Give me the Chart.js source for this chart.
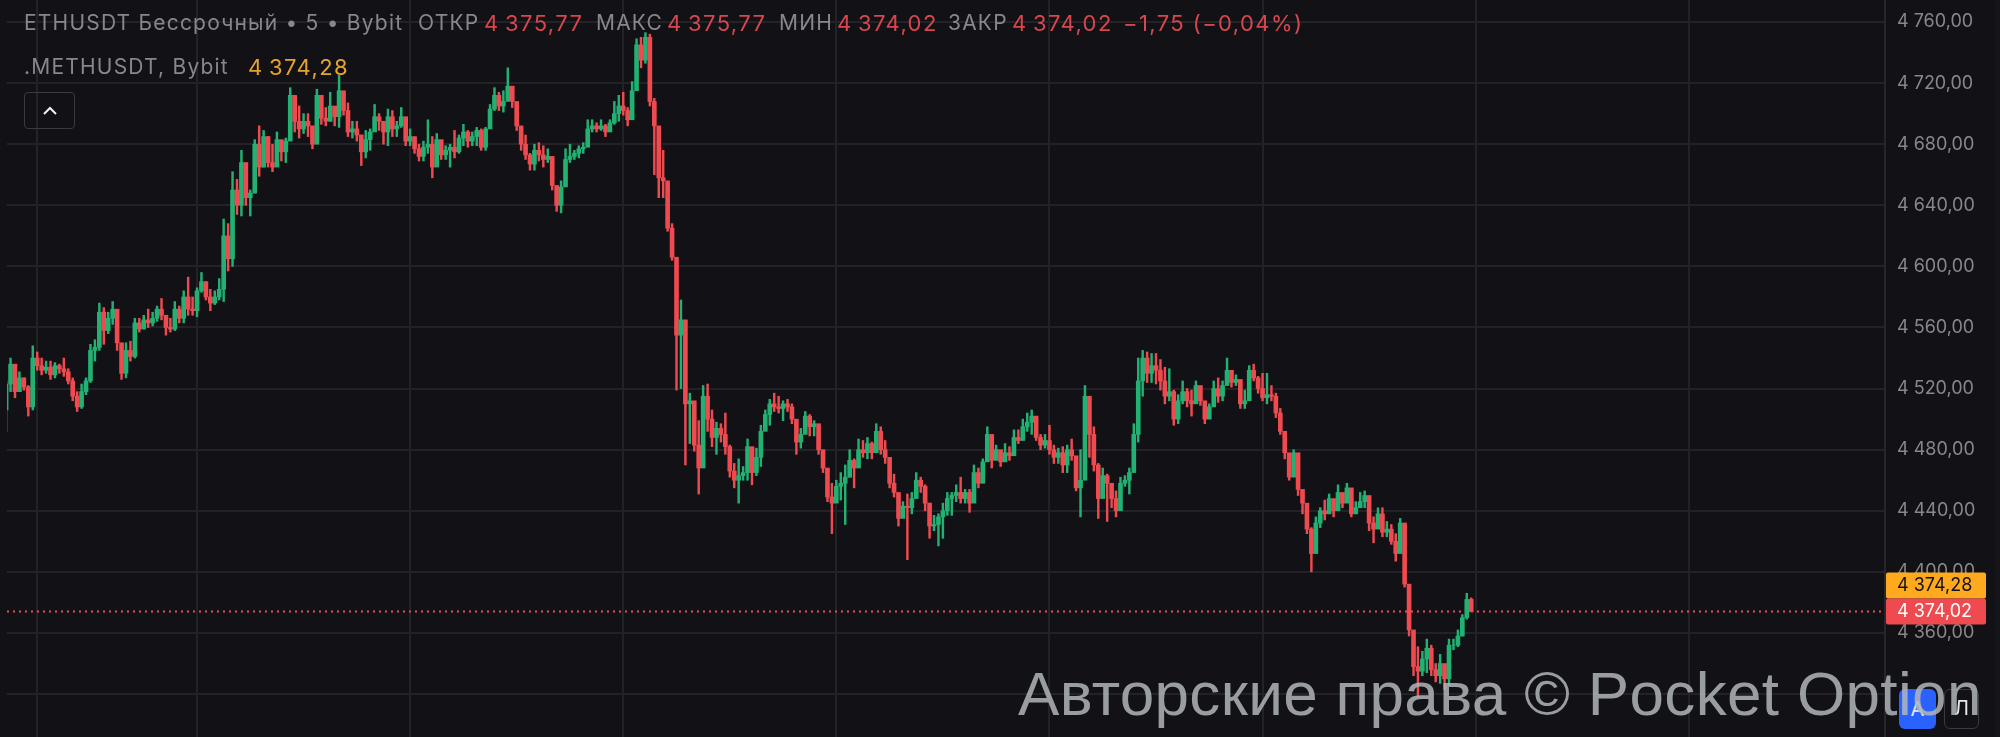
<!DOCTYPE html>
<html>
<head>
<meta charset="utf-8">
<script src="https://cdn.jsdelivr.net/npm/chart.js@4"></script>
<style>
    html, body { margin: 0; padding: 0; background: #15151a; overflow: hidden; }
    #wrap { position: absolute; left: 0; top: 0; width: 1995px; height: 737px; background: #111116; }
    #chart { display: block; }
    .t { position: absolute; font: 21px Inter, sans-serif; letter-spacing: 1.2px; white-space: nowrap; color: #87878c; line-height: 24px; }
    .red { color: #d8474d; font-size: 22px; letter-spacing: 1.4px; }
    .gold { color: #e6a52a; font-size: 22px; letter-spacing: 1.4px; }
    #collapse { position: absolute; left: 24px; top: 92px; width: 51px; height: 37px; border: 1.5px solid #3a3a40; border-radius: 4px; box-sizing: border-box; }
    #collapse svg { position: absolute; left: 17px; top: 12px; }
    #mark { position: absolute; left: 1018px; top: 658px; font: 62px "Liberation Sans", sans-serif; letter-spacing: 0.35px; color: rgba(178,182,187,.85); white-space: nowrap; line-height: 72px; }
    .scale-btn { position: absolute; top: 689px; height: 40px; border-radius: 6px; box-sizing: border-box; font: 20px Inter, sans-serif; text-align: center; line-height: 40px; color: #e8e8ea; }
</style>
</head>
<body>
<div id="wrap">
    <canvas id="chart" width="1995" height="737"></canvas>
    <div class="scale-btn" style="left:1899px;width:37px;background:#2962ff">А</div>
    <div class="scale-btn" style="left:1944px;width:35px;border:1.5px solid #3a3a40;line-height:37px">Л</div>
    <div id="mark">Авторские права © Pocket Option</div>
    <span class="t" style="left:24px;top:11px">ETHUSDT Бессрочный • 5 • Bybit</span>
    <span class="t" style="left:418px;top:11px">ОТКР</span>
    <span class="t red" style="left:484px;top:11px">4&#8201;375,77</span>
    <span class="t" style="left:596px;top:11px">МАКС</span>
    <span class="t red" style="left:667px;top:11px">4&#8201;375,77</span>
    <span class="t" style="left:779px;top:11px">МИН</span>
    <span class="t red" style="left:837px;top:11px">4&#8201;374,02</span>
    <span class="t" style="left:948px;top:11px">ЗАКР</span>
    <span class="t red" style="left:1012px;top:11px">4&#8201;374,02</span>
    <span class="t red" style="left:1123px;top:11px">−1,75 (−0,04%)</span>
    <span class="t" style="left:24px;top:55px">.METHUSDT, Bybit</span>
    <span class="t gold" style="left:248px;top:55px">4&#8201;374,28</span>
    <div id="collapse"><svg width="16" height="11"><polyline points="2,9 8,3 14,9" fill="none" stroke="#f2f2f2" stroke-width="2"/></svg></div>
</div>

<script>
const highs = [
    4525,4540,4532,4531,4527,4522,4548,4544,4540,4538,
    4538,4537,4536,4540,4533,4527,4518,4523,4527,4549,
    4552,4576,4573,4570,4577,4570,4546,4550,4551,4566,
    4566,4568,4572,4570,4574,4579,4568,4566,4577,4574,
    4584,4593,4580,4586,4596,4590,4585,4584,4592,4631,
    4628,4662,4657,4676,4660,4650,4683,4692,4689,4685,
    4680,4688,4682,4684,4717,4712,4705,4700,4700,4691,
    4716,4710,4704,4714,4702,4725,4709,4707,4695,4695,
    4686,4689,4690,4706,4700,4695,4703,4702,4695,4704,
    4695,4690,4683,4680,4682,4696,4685,4687,4678,4679,
    4680,4689,4686,4693,4689,4688,4691,4690,4691,4706,
    4717,4714,4715,4730,4717,4705,4687,4686,4674,4680,
    4681,4679,4677,4669,4652,4656,4677,4680,4676,4679,
    4681,4696,4696,4694,4696,4693,4696,4708,4712,4714,
    4704,4721,4749,4750,4753,4752,4710,4690,4676,4646,
    4628,4590,4578,4540,4517,4500,4499,4522,4523,4506,
    4498,4497,4504,4483,4471,4474,4469,4487,4480,4481,
    4496,4506,4513,4517,4515,4512,4513,4510,4497,4494,
    4505,4503,4499,4495,4477,4465,4458,4460,4465,4470,
    4480,4474,4487,4486,4488,4485,4497,4495,4486,4471,
    4464,4450,4446,4451,4452,4465,4462,4457,4445,4437,
    4438,4445,4452,4452,4457,4462,4454,4454,4470,4468,
    4474,4495,4488,4483,4477,4484,4482,4493,4493,4500,
    4504,4506,4495,4490,4490,4496,4483,4481,4482,4483,
    4487,4472,4480,4522,4508,4495,4471,4468,4464,4458,
    4453,4462,4463,4468,4497,4540,4545,4544,4543,4543,
    4539,4534,4533,4519,4516,4525,4520,4519,4525,4520,
    4510,4510,4525,4527,4525,4540,4530,4529,4524,4519,
    4535,4536,4528,4530,4530,4522,4517,4507,4490,4477,
    4480,4464,4451,4442,4429,4436,4442,4447,4451,4447,
    4457,4451,4458,4454,4446,4452,4453,4440,4436,4442,
    4442,4433,4431,4425,4435,4425,4391,4358,4351,4348,
    4356,4352,4340,4346,4338,4356,4356,4362,4372,4386,
    4383
];
const lows = [
    4492,4518,4514,4518,4519,4502,4506,4532,4529,4530,
    4526,4527,4530,4528,4523,4512,4505,4507,4516,4524,
    4538,4545,4549,4556,4562,4545,4526,4527,4538,4540,
    4557,4559,4560,4561,4564,4565,4555,4557,4558,4563,
    4563,4568,4568,4567,4583,4578,4571,4575,4578,4577,
    4597,4600,4634,4633,4640,4633,4648,4659,4665,4665,
    4662,4666,4669,4668,4685,4688,4684,4687,4685,4677,
    4682,4693,4692,4695,4692,4691,4699,4685,4684,4682,
    4666,4671,4676,4691,4689,4680,4679,4685,4685,4691,
    4679,4679,4674,4669,4669,4674,4658,4669,4670,4670,
    4665,4671,4674,4679,4678,4679,4679,4676,4676,4693,
    4702,4702,4701,4713,4704,4689,4676,4670,4663,4663,
    4669,4665,4668,4650,4636,4635,4662,4668,4670,4671,
    4674,4679,4688,4688,4689,4685,4689,4693,4695,4699,
    4692,4702,4720,4730,4733,4705,4660,4645,4645,4623,
    4604,4519,4520,4470,4484,4479,4451,4477,4492,4482,
    4477,4485,4477,4462,4455,4445,4460,4460,4457,4463,
    4469,4496,4496,4505,4504,4499,4505,4497,4477,4481,
    4492,4489,4489,4477,4465,4446,4425,4448,4447,4431,
    4462,4455,4474,4475,4474,4474,4482,4477,4471,4455,
    4449,4430,4436,4408,4438,4453,4452,4440,4422,4427,
    4417,4422,4437,4437,4446,4445,4445,4439,4451,4455,
    4466,4481,4468,4474,4469,4473,4473,4477,4484,4488,
    4492,4490,4486,4480,4481,4477,4471,4471,4465,4465,
    4473,4453,4436,4477,4475,4466,4435,4449,4433,4442,
    4436,4442,4456,4451,4466,4485,4515,4524,4524,4523,
    4519,4510,4512,4496,4497,4510,4508,4502,4514,4509,
    4497,4504,4512,4511,4512,4526,4521,4522,4507,4507,
    4519,4525,4517,4512,4510,4512,4501,4490,4474,4460,
    4463,4450,4438,4425,4400,4418,4429,4434,4438,4436,
    4442,4442,4447,4436,4438,4442,4442,4427,4419,4431,
    4423,4423,4418,4407,4414,4390,4358,4332,4318,4332,
    4334,4332,4328,4327,4323,4326,4349,4351,4358,4369,
    4374
];
const closes = [
    4523,4536,4518,4527,4521,4508,4540,4535,4532,4534,
    4529,4535,4533,4531,4525,4515,4508,4518,4525,4545,
    4547,4570,4558,4566,4572,4550,4530,4545,4541,4563,
    4559,4565,4563,4566,4572,4568,4560,4559,4572,4566,
    4580,4572,4571,4584,4590,4580,4576,4580,4585,4620,
    4605,4650,4640,4668,4645,4648,4680,4665,4685,4668,
    4665,4683,4675,4682,4712,4695,4690,4695,4692,4680,
    4712,4697,4695,4705,4698,4715,4702,4688,4690,4686,
    4675,4683,4688,4698,4695,4688,4698,4690,4692,4698,
    4682,4685,4677,4672,4678,4680,4665,4683,4673,4676,
    4678,4675,4684,4688,4682,4685,4689,4678,4690,4703,
    4712,4705,4708,4718,4708,4692,4680,4673,4667,4676,
    4673,4670,4672,4653,4640,4652,4670,4672,4674,4677,
    4678,4690,4692,4690,4692,4688,4694,4700,4705,4702,
    4696,4715,4745,4735,4750,4708,4692,4658,4656,4625,
    4606,4555,4565,4510,4512,4483,4468,4515,4500,4488,
    4494,4490,4482,4466,4460,4463,4465,4482,4465,4475,
    4492,4503,4510,4508,4507,4510,4508,4500,4485,4490,
    4502,4495,4497,4480,4468,4449,4445,4456,4458,4462,
    4473,4468,4480,4478,4484,4478,4492,4480,4475,4458,
    4452,4435,4443,4442,4448,4460,4456,4445,4430,4431,
    4436,4440,4448,4450,4452,4448,4452,4445,4465,4458,
    4472,4490,4473,4480,4472,4478,4476,4488,4486,4495,
    4498,4502,4488,4483,4486,4480,4475,4478,4470,4480,
    4476,4455,4460,4515,4490,4470,4448,4463,4458,4448,
    4440,4458,4460,4465,4490,4525,4540,4530,4535,4532,
    4525,4515,4518,4500,4512,4518,4512,4510,4522,4512,
    4500,4508,4520,4515,4522,4532,4524,4526,4510,4512,
    4532,4527,4520,4514,4516,4515,4504,4492,4478,4462,
    4478,4454,4445,4428,4412,4432,4440,4438,4448,4440,
    4452,4445,4455,4438,4442,4446,4450,4432,4428,4438,
    4426,4428,4420,4412,4432,4392,4362,4338,4335,4343,
    4350,4336,4332,4340,4330,4352,4352,4358,4370,4382,
    4374
];
const opens = [
    4506,4523,4536,4518,4527,4521,4508,4540,4535,4532,
    4534,4529,4535,4533,4531,4525,4515,4508,4518,4525,
    4545,4547,4570,4558,4566,4572,4550,4530,4545,4541,
    4563,4559,4565,4563,4566,4572,4568,4560,4559,4572,
    4566,4580,4572,4571,4584,4590,4580,4576,4580,4585,
    4620,4605,4650,4640,4668,4645,4648,4680,4665,4685,
    4668,4665,4683,4675,4682,4712,4695,4690,4695,4692,
    4680,4712,4697,4695,4705,4698,4715,4702,4688,4690,
    4686,4675,4683,4688,4698,4695,4688,4698,4690,4692,
    4698,4682,4685,4677,4672,4678,4680,4665,4683,4673,
    4676,4678,4675,4684,4688,4682,4685,4689,4678,4690,
    4703,4712,4705,4708,4718,4708,4692,4680,4673,4667,
    4676,4673,4670,4672,4653,4640,4652,4670,4672,4674,
    4677,4678,4690,4692,4690,4692,4688,4694,4700,4705,
    4702,4696,4715,4745,4735,4750,4708,4692,4658,4656,
    4625,4606,4555,4565,4510,4512,4483,4468,4515,4500,
    4488,4494,4490,4482,4466,4460,4463,4465,4482,4465,
    4475,4492,4503,4510,4508,4507,4510,4508,4500,4485,
    4490,4502,4495,4497,4480,4468,4449,4445,4456,4458,
    4462,4473,4468,4480,4478,4484,4478,4492,4480,4475,
    4458,4452,4435,4443,4442,4448,4460,4456,4445,4430,
    4431,4436,4440,4448,4450,4452,4448,4452,4445,4465,
    4458,4472,4490,4473,4480,4472,4478,4476,4488,4486,
    4495,4498,4502,4488,4483,4486,4480,4475,4478,4470,
    4480,4476,4455,4460,4515,4490,4470,4448,4463,4458,
    4448,4440,4458,4460,4465,4490,4525,4540,4530,4535,
    4532,4525,4515,4518,4500,4512,4518,4512,4510,4522,
    4512,4500,4508,4520,4515,4522,4532,4524,4526,4510,
    4512,4532,4527,4520,4514,4516,4515,4504,4492,4478,
    4462,4478,4454,4445,4428,4412,4432,4440,4438,4448,
    4440,4452,4445,4455,4438,4442,4446,4450,4432,4428,
    4438,4426,4428,4420,4412,4432,4392,4362,4338,4335,
    4343,4350,4336,4332,4340,4330,4352,4352,4358,4370,
    4382
];

const priceTicks = [4760,4720,4680,4640,4600,4560,4520,4480,4440,4400,4360,4320];
const hiddenLabels = [4320];
const timeTicks = [7,43,91,139,187,235,283,331,379];
const lastPrice = 4374.02;
const markPrice = 4374.28;

const GREEN = "#22b173";
const RED = "#ef4a50";
const GRID = "#222227";

function fmt(v) {
    return v.toLocaleString("ru-RU", { minimumFractionDigits: 2, maximumFractionDigits: 2 });
}

// плашки цен справа
const priceTags = {
    id: "priceTags",
    afterDraw(c) {
        const ctx = c.ctx;
        const yRed = c.scales.y.getPixelForValue(lastPrice);
        const left = c.chartArea.right + 1;
        const tags = [
            { y: yRed - 39, bg: "#ffaa1e", fg: "#111116", text: fmt(markPrice) },
            { y: yRed - 13, bg: "#ef4a50", fg: "#ffffff", text: fmt(lastPrice) }
        ];
        tags.forEach(t => {
            ctx.fillStyle = t.bg;
            ctx.beginPath();
            ctx.roundRect(left, t.y, 100, 26, 2);
            ctx.fill();
            ctx.fillStyle = t.fg;
            ctx.font = "18px Inter, sans-serif";
            ctx.textAlign = "left";
            ctx.textBaseline = "middle";
            ctx.fillText(t.text, left + 11, t.y + 13.5);
        });
    }
};

const candleColors = closes.map((c, i) => (c >= opens[i] ? GREEN : RED));

const chart = new Chart(document.getElementById("chart").getContext("2d"), {
    data: {
        datasets: [
            {
                type: "line",
                data: [{ x: 0.2, y: lastPrice }, { x: 423.2, y: lastPrice }],
                borderColor: RED,
                borderWidth: 2,
                borderDash: [2, 4],
                pointRadius: 0,
                order: 3
            },
            {
                type: "bar",
                data: highs.map((h, i) => ({ x: i, y: [lows[i], h] })),
                backgroundColor: candleColors,
                barThickness: 1.8,
                grouped: false,
                order: 2
            },
            {
                type: "bar",
                data: opens.map((o, i) => ({ x: i, y: [Math.min(o, closes[i]), Math.max(o, closes[i])] })),
                backgroundColor: candleColors,
                barThickness: 4,
                grouped: false,
                order: 1
            }
        ]
    },
    options: {
        responsive: false,
        animation: false,
        layout: { padding: { left: 7 } },
        plugins: { legend: { display: false }, tooltip: { enabled: false } },
        scales: {
            x: {
                type: "linear",
                offset: false,
                min: 0.2,
                max: 423.2,
                afterBuildTicks: s => { s.ticks = timeTicks.map(value => ({ value })); },
                afterFit: s => { s.height = 0; s.paddingLeft = 0; s.paddingRight = 0; },
                ticks: { display: false },
                grid: { color: GRID, lineWidth: 2, drawTicks: false, offset: false },
                border: { display: false }
            },
            y: {
                position: "right",
                min: 4291.9,
                max: 4774.4,
                afterBuildTicks: s => { s.ticks = priceTicks.map(value => ({ value })); },
                afterFit: s => { s.width = 110; s.paddingTop = 0; s.paddingBottom = 0; },
                ticks: {
                    color: "#87878c",
                    padding: 12,
                    font: { family: "Inter, sans-serif", size: 18 },
                    callback: v => (hiddenLabels.includes(v) ? "" : fmt(v))
                },
                grid: { color: GRID, lineWidth: 2, drawTicks: false },
                border: { color: "#26262b", width: 2 }
            }
        }
    },
    plugins: [priceTags]
});
</script>
</body>
</html>
